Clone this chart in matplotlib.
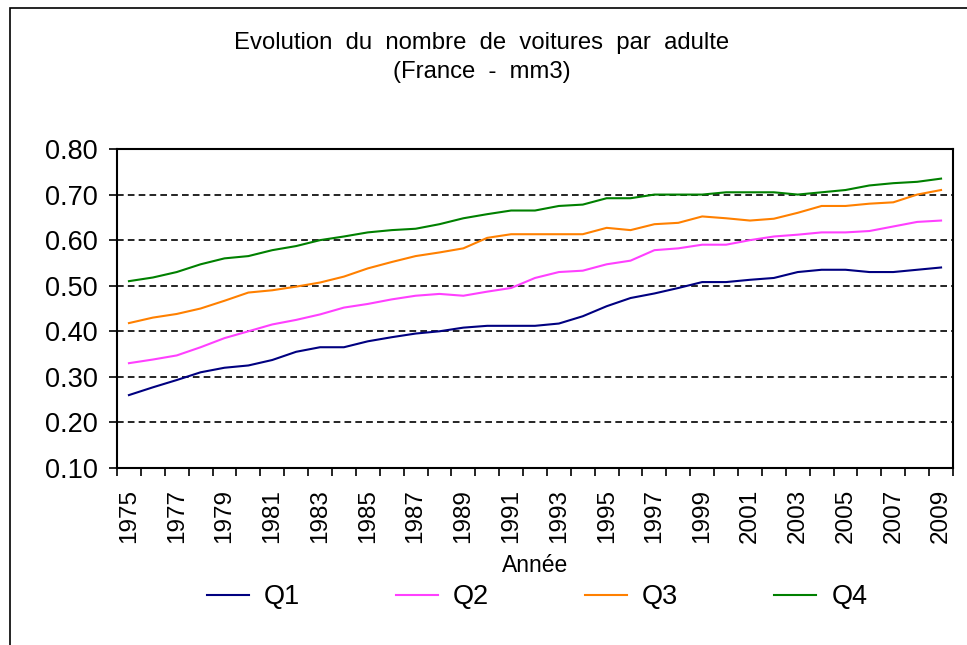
import matplotlib.pyplot as plt
from matplotlib.patches import Rectangle
from matplotlib.ticker import FixedLocator, NullFormatter

plt.rcParams['font.family'] = ['Liberation Sans', 'DejaVu Sans']

# -----------------------------
# Data
# -----------------------------
years = list(range(1975, 2010))

q1 = [0.260, 0.277, 0.293, 0.310, 0.320, 0.325, 0.337, 0.355, 0.365, 0.365,
      0.378, 0.387, 0.395, 0.400, 0.408, 0.412, 0.412, 0.412, 0.417, 0.433,
      0.455, 0.473, 0.483, 0.495, 0.508, 0.508, 0.513, 0.517, 0.530, 0.535,
      0.535, 0.530, 0.530, 0.535, 0.540]
q2 = [0.330, 0.338, 0.347, 0.365, 0.385, 0.400, 0.415, 0.425, 0.437, 0.452,
      0.460, 0.470, 0.478, 0.482, 0.478, 0.487, 0.495, 0.517, 0.530, 0.533,
      0.547, 0.555, 0.578, 0.582, 0.590, 0.590, 0.600, 0.608, 0.612, 0.617,
      0.617, 0.620, 0.630, 0.640, 0.643]
q3 = [0.418, 0.430, 0.438, 0.450, 0.467, 0.485, 0.490, 0.498, 0.507, 0.520,
      0.538, 0.552, 0.565, 0.573, 0.582, 0.605, 0.613, 0.613, 0.613, 0.613,
      0.627, 0.622, 0.635, 0.638, 0.652, 0.648, 0.643, 0.647, 0.660, 0.675,
      0.675, 0.680, 0.683, 0.700, 0.710]
q4 = [0.510, 0.518, 0.530, 0.547, 0.560, 0.565, 0.578, 0.587, 0.600, 0.608,
      0.617, 0.622, 0.625, 0.635, 0.648, 0.657, 0.665, 0.665, 0.675, 0.678,
      0.692, 0.692, 0.700, 0.700, 0.700, 0.705, 0.705, 0.705, 0.700, 0.705,
      0.710, 0.720, 0.725, 0.728, 0.735]

series = [("Q1", q1, "#000080"), ("Q2", q2, "#ff40ff"),
          ("Q3", q3, "#ff8000"), ("Q4", q4, "#008000")]

# -----------------------------
# Plot
# -----------------------------
fig = plt.figure(figsize=(9.67, 6.45), dpi=100)
ax = fig.add_axes([117 / 967, 1 - 468 / 645, 836 / 967, 319 / 645])

# outer chart frame (open on the right/bottom like the source)
fig.patches.append(Rectangle((10 / 967, -0.1), 1.2, 1.1 - 8 / 645,
                             transform=fig.transFigure, fill=False,
                             edgecolor="black", linewidth=1.2))

x = list(range(len(years)))
for name, vals, col in series:
    ax.plot(x, vals, color=col, linewidth=1.5, label=name)

ax.set_xlim(-0.5, len(years) - 0.5)
ax.set_ylim(0.10, 0.80)
ax.set_yticks([0.1 * i for i in range(1, 9)])
ax.set_yticklabels([f"{0.1 * i:.2f}" for i in range(1, 9)], fontsize=19.5)

for yv in [0.2, 0.3, 0.4, 0.5, 0.6, 0.7, 0.8]:
    ax.axhline(yv, color="black", linewidth=1.2, linestyle=(0, (4, 2.5)), zorder=1)

# ticks at category boundaries, labels every 2nd year
ax.xaxis.set_major_locator(FixedLocator([i - 0.5 for i in range(len(years) + 1)]))
ax.xaxis.set_major_formatter(NullFormatter())
ax.xaxis.set_minor_locator(FixedLocator(x[::2]))
ax.set_xticklabels([str(y) for y in years[::2]], minor=True, rotation=90, fontsize=17.5)
ax.tick_params(axis="x", which="minor", length=0, pad=15)
ax.tick_params(axis="both", which="major", direction="out", length=6, width=1.2)
ax.tick_params(axis="y", pad=8)

for s in ax.spines.values():
    s.set_color("black")
    s.set_linewidth(1.5)

ax.set_xlabel("Année", fontsize=16.5, labelpad=8)

fig.text(482 / 967, 1 - 43 / 645, "Evolution  du  nombre  de  voitures  par  adulte",
         ha="center", va="center", fontsize=17.2)
fig.text(482 / 967, 1 - 72 / 645, "(France  -  mm3)",
         ha="center", va="center", fontsize=17.2)

fig.legend(loc="center", bbox_to_anchor=(537 / 967, 1 - 597 / 645), ncol=4,
           frameon=False, fontsize=19.5, handlelength=1.55, handletextpad=0.55,
           columnspacing=3.55)

plt.savefig("out.png", dpi=100)
